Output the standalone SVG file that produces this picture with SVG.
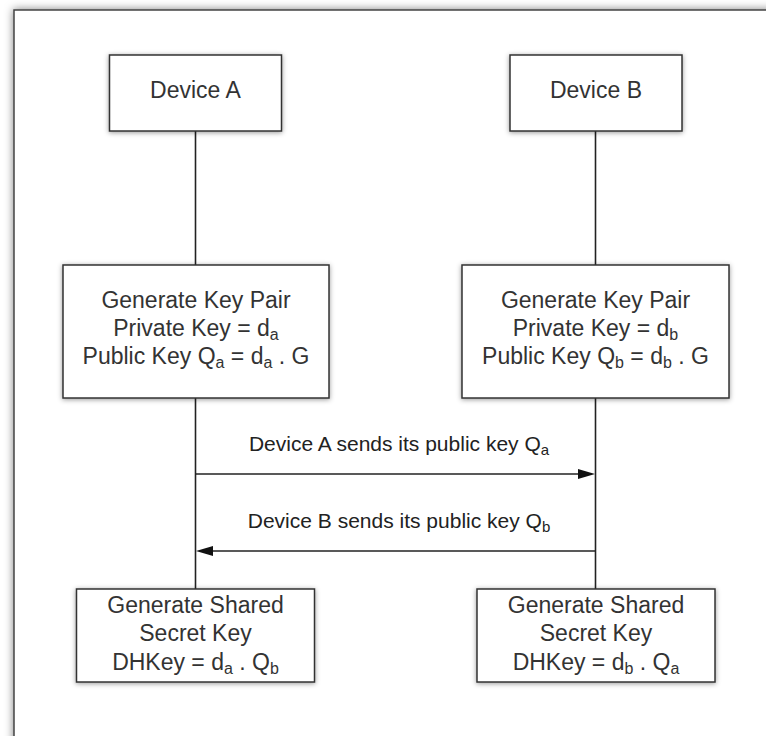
<svg xmlns="http://www.w3.org/2000/svg" width="766" height="736" viewBox="0 0 766 736">
<defs>
<filter id="sh" x="-20%" y="-20%" width="140%" height="140%">
<feDropShadow dx="0" dy="1" stdDeviation="2.5" flood-color="#000" flood-opacity="0.4"/>
</filter>
<filter id="fsh" x="-5%" y="-5%" width="110%" height="110%">
<feDropShadow dx="0" dy="0" stdDeviation="4" flood-color="#000" flood-opacity="0.5"/>
</filter>
</defs>
<style>
.box{fill:#fff;stroke:#333;stroke-width:1.5;filter:url(#sh)}
.t{font-family:"Liberation Sans",Arial,sans-serif;font-size:23px;fill:#333;text-anchor:middle}
.lbl{font-family:"Liberation Sans",Arial,sans-serif;font-size:21px;fill:#222;text-anchor:middle}
.sub{font-size:16px}
.lbl .sub{font-size:15px}
.ln{stroke:#222;stroke-width:1.6;fill:none}
.ah{fill:#111}
</style>
<rect x="0" y="0" width="766" height="736" fill="#fff"/>
<rect id="frame" x="14" y="10" width="800" height="800" fill="#fff" stroke="#444" stroke-width="1.5" filter="url(#fsh)"/>
<g id="connectors">
<line class="ln" x1="195.5" y1="131" x2="195.5" y2="265"/>
<line class="ln" x1="595.5" y1="131" x2="595.5" y2="265"/>
<line class="ln" x1="195.5" y1="398" x2="195.5" y2="589"/>
<line class="ln" x1="595.5" y1="398" x2="595.5" y2="589"/>
<g id="msg1">
<line class="ln" x1="195.5" y1="474" x2="580" y2="474"/>
<polygon class="ah" points="595,474 578,469 578,479"/>
<text class="lbl" x="399" y="451">Device A sends its public key Q<tspan class="sub" dy="4">a</tspan></text>
</g>
<g id="msg2">
<line class="ln" x1="595.5" y1="551" x2="211" y2="551"/>
<polygon class="ah" points="196,551 213,546 213,556"/>
<text class="lbl" x="399" y="528">Device B sends its public key Q<tspan class="sub" dy="4">b</tspan></text>
</g>
</g>
<g id="deviceA">
<rect class="box" x="109.5" y="55" width="172" height="76"/>
<text class="t" x="195.5" y="97.5">Device A</text>
</g>
<g id="deviceB">
<rect class="box" x="510" y="55" width="172" height="76"/>
<text class="t" x="596" y="97.5">Device B</text>
</g>
<g id="keypairA">
<rect class="box" x="63" y="265" width="266" height="133"/>
<text class="t" x="196" y="307.5">Generate Key Pair</text>
<text class="t" x="196" y="335.5">Private Key = d<tspan class="sub" dy="4">a</tspan></text>
<text class="t" x="196" y="363.5">Public Key Q<tspan class="sub" dy="4">a</tspan><tspan dy="-4"> = d</tspan><tspan class="sub" dy="4">a</tspan><tspan dy="-4"> . G</tspan></text>
</g>
<g id="keypairB">
<rect class="box" x="462" y="265" width="267" height="133"/>
<text class="t" x="595.5" y="307.5">Generate Key Pair</text>
<text class="t" x="595.5" y="335.5">Private Key = d<tspan class="sub" dy="4">b</tspan></text>
<text class="t" x="595.5" y="363.5">Public Key Q<tspan class="sub" dy="4">b</tspan><tspan dy="-4"> = d</tspan><tspan class="sub" dy="4">b</tspan><tspan dy="-4"> . G</tspan></text>
</g>
<g id="sharedA">
<rect class="box" x="76.5" y="589" width="238" height="93"/>
<text class="t" x="195.5" y="612.5">Generate Shared</text>
<text class="t" x="195.5" y="641">Secret Key</text>
<text class="t" x="195.5" y="669.5">DHKey = d<tspan class="sub" dy="4">a</tspan><tspan dy="-4"> . Q</tspan><tspan class="sub" dy="4">b</tspan></text>
</g>
<g id="sharedB">
<rect class="box" x="477" y="589" width="238" height="93"/>
<text class="t" x="596" y="612.5">Generate Shared</text>
<text class="t" x="596" y="641">Secret Key</text>
<text class="t" x="596" y="669.5">DHKey = d<tspan class="sub" dy="4">b</tspan><tspan dy="-4"> . Q</tspan><tspan class="sub" dy="4">a</tspan></text>
</g>
</svg>
